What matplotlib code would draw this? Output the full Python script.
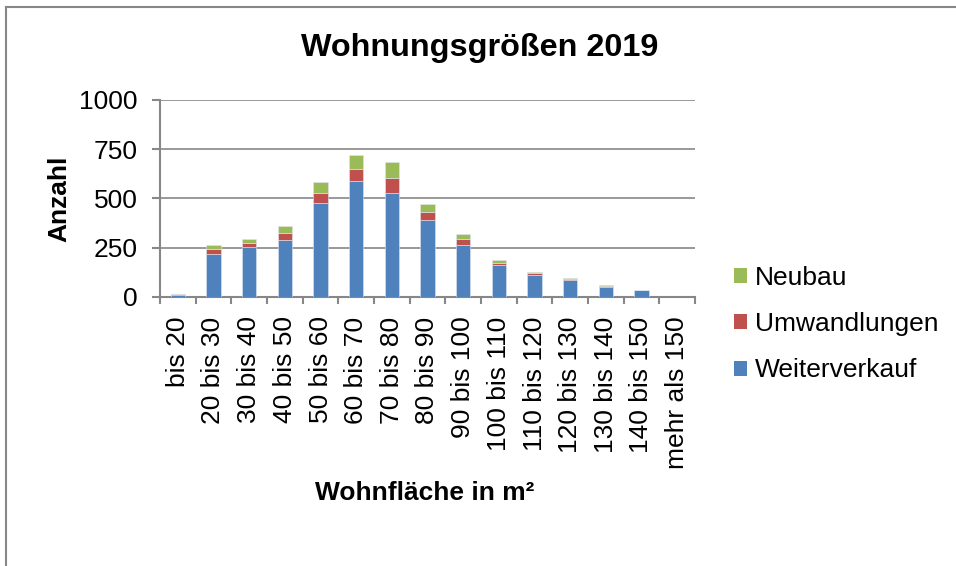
import matplotlib.pyplot as plt
from matplotlib.lines import Line2D
from matplotlib.patches import Patch
import numpy as np

plt.rcParams['font.family'] = ['Liberation Sans', 'DejaVu Sans']

categories = ["bis 20", "20 bis 30", "30 bis 40", "40 bis 50", "50 bis 60",
              "60 bis 70", "70 bis 80", "80 bis 90", "90 bis 100", "100 bis 110",
              "110 bis 120", "120 bis 130", "130 bis 140", "140 bis 150", "mehr als 150"]

weiterverkauf = [10, 220, 253, 291, 476, 588, 527, 390, 264, 160, 111, 84, 51, 34, 0]
umwandlungen = [3, 22, 21, 35, 53, 64, 79, 39, 28, 14, 9, 7, 5, 2, 0]
neubau = [2, 22, 20, 35, 54, 69, 80, 42, 29, 14, 5, 7, 5, 1, 0]

series_names = ["Weiterverkauf", "Umwandlungen", "Neubau"]
colors = ["#4F81BD", "#C0504D", "#9BBB59"]
grey = "#878787"

W, H = 956, 566
fig = plt.figure(figsize=(W / 100, H / 100), dpi=100)
ax = fig.add_axes([160 / W, 1 - 297 / H, 535 / W, 197 / H])

x = np.arange(len(categories))
bottom = np.zeros(len(categories))
for vals, name, col in zip([weiterverkauf, umwandlungen, neubau], series_names, colors):
    ax.bar(x, vals, width=0.4, bottom=bottom, color=col, edgecolor="#dfe6f0",
           linewidth=0.4, label=name, zorder=3)
    bottom += np.array(vals)

ax.set_xlim(-0.5, len(categories) - 0.5)
ax.set_ylim(0, 1000)
ax.set_yticks([0, 250, 500, 750, 1000])
ax.yaxis.grid(True, color=grey, linewidth=1.2, zorder=0)

for side in ["top", "right"]:
    ax.spines[side].set_visible(False)
for side in ["left", "bottom"]:
    ax.spines[side].set_color(grey)
    ax.spines[side].set_linewidth(1.5)

ax.set_xticks(x)
ax.set_xticklabels(categories, rotation=90, fontsize=19)
ax.tick_params(axis="x", length=0, pad=14)
ax.set_xticks(np.arange(-0.5, len(categories)), minor=True)
ax.tick_params(axis="x", which="minor", length=5, width=1.5, color=grey, direction="out")
ax.tick_params(axis="y", labelsize=19, length=6, width=1.5, color=grey, pad=10)

ax.set_ylabel("Anzahl", fontsize=19, fontweight="bold", labelpad=6)
fig.text(425 / W, 1 - 493 / H, "Wohnfläche in m²", fontsize=19, fontweight="bold",
         ha="center", va="center")
fig.text(480 / W, 1 - 48 / H, "Wohnungsgrößen 2019", fontsize=23.3, fontweight="bold",
         ha="center", va="center")

handles = [Patch(facecolor=c, label=n) for n, c in zip(series_names, colors)][::-1]
fig.legend(handles=handles, loc="center left", bbox_to_anchor=(734 / W, 1 - 324 / H),
           frameon=False, fontsize=19, handlelength=0.5, handleheight=0.5,
           handletextpad=0.3, labelspacing=0.85, borderaxespad=0, borderpad=0)

# chart frame (only top and left edges are visible)
fig.add_artist(Line2D([5.5 / W, 1], [1 - 6.5 / H, 1 - 6.5 / H], color=grey, linewidth=1.5))
fig.add_artist(Line2D([5.5 / W, 5.5 / W], [0, 1 - 6.5 / H], color=grey, linewidth=1.5))

fig.savefig("out.png", dpi=100)
